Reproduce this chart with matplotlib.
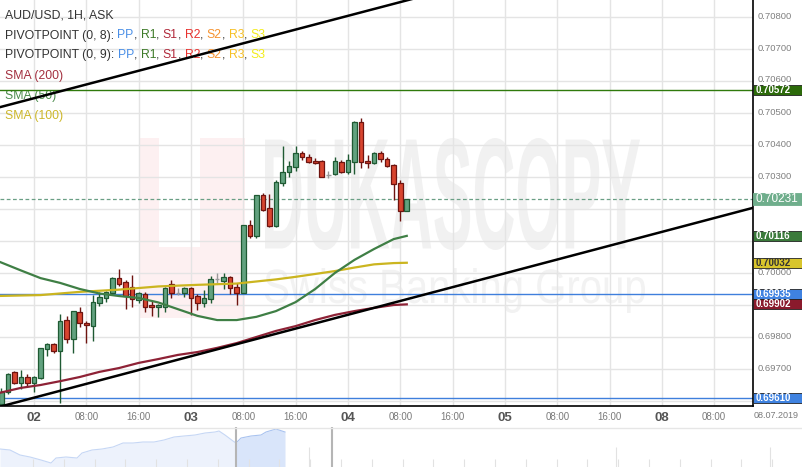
import numpy as np
import matplotlib
matplotlib.use("Agg")
import matplotlib.pyplot as plt
from matplotlib.patches import Rectangle, PathPatch
from matplotlib.textpath import TextPath
from matplotlib.font_manager import FontProperties
from matplotlib.transforms import Affine2D, IdentityTransform, blended_transform_factory

plt.rcParams['font.family'] = ['Liberation Sans', 'DejaVu Sans']

# hourly candles, hour 0 = 02.07 00:00 (weekend hours skipped)
hours = np.arange(-5, 58)
opens = [0.69591, 0.69628, 0.69691, 0.69656, 0.69675, 0.69656, 0.69672, 0.69763, 0.69778, 0.69756,
         0.69853, 0.69794, 0.69878, 0.69844, 0.69834, 0.69906, 0.69922, 0.69938, 0.69984, 0.69972,
         0.69956, 0.69916, 0.69934, 0.69900, 0.69894, 0.69894, 0.69966, 0.69938, 0.69938, 0.69953,
         0.69928, 0.69906, 0.69919, 0.69981, 0.69975, 0.69988, 0.69956, 0.69938, 0.70150, 0.70116,
         0.70244, 0.70203, 0.70147, 0.70281, 0.70316, 0.70331, 0.70375, 0.70362, 0.70350, 0.70350,
         0.70306, 0.70309, 0.70347, 0.70316, 0.70347, 0.70472, 0.70350, 0.70344, 0.70375, 0.70356,
         0.70338, 0.70281, 0.70194]
highs = [0.69641, 0.69688, 0.69694, 0.69697, 0.69684, 0.69678, 0.69766, 0.69781, 0.69781, 0.69872,
         0.69866, 0.69881, 0.69894, 0.69850, 0.69931, 0.69941, 0.69944, 0.69988, 0.70013, 0.69978,
         0.69994, 0.69941, 0.69941, 0.69913, 0.69903, 0.69956, 0.69978, 0.69953, 0.69956, 0.69956,
         0.69934, 0.69947, 0.69991, 0.70000, 0.70000, 0.69991, 0.69969, 0.70150, 0.70166, 0.70244,
         0.70250, 0.70247, 0.70291, 0.70397, 0.70350, 0.70397, 0.70381, 0.70372, 0.70359, 0.70353,
         0.70319, 0.70362, 0.70353, 0.70372, 0.70475, 0.70484, 0.70369, 0.70378, 0.70381, 0.70362,
         0.70341, 0.70291, 0.70231]
lows = [0.69572, 0.69622, 0.69653, 0.69638, 0.69644, 0.69628, 0.69669, 0.69741, 0.69750, 0.69594,
        0.69781, 0.69750, 0.69831, 0.69781, 0.69788, 0.69897, 0.69909, 0.69934, 0.69959, 0.69888,
        0.69894, 0.69906, 0.69878, 0.69866, 0.69863, 0.69878, 0.69922, 0.69931, 0.69925, 0.69869,
        0.69884, 0.69894, 0.69906, 0.69969, 0.69950, 0.69934, 0.69900, 0.69938, 0.70109, 0.70109,
        0.70194, 0.70144, 0.70144, 0.70272, 0.70300, 0.70319, 0.70353, 0.70344, 0.70341, 0.70300,
        0.70297, 0.70306, 0.70312, 0.70309, 0.70309, 0.70328, 0.70328, 0.70341, 0.70347, 0.70331,
        0.70228, 0.70163, 0.70194]
closes = [0.69628, 0.69684, 0.69656, 0.69675, 0.69656, 0.69675, 0.69766, 0.69778, 0.69756, 0.69850,
          0.69794, 0.69881, 0.69844, 0.69838, 0.69909, 0.69925, 0.69941, 0.69984, 0.69966, 0.69928,
          0.69919, 0.69938, 0.69894, 0.69894, 0.69900, 0.69953, 0.69938, 0.69938, 0.69953, 0.69922,
          0.69906, 0.69922, 0.69981, 0.69981, 0.69988, 0.69953, 0.69938, 0.70150, 0.70116, 0.70244,
          0.70197, 0.70147, 0.70284, 0.70316, 0.70334, 0.70375, 0.70362, 0.70347, 0.70344, 0.70300,
          0.70306, 0.70350, 0.70316, 0.70353, 0.70472, 0.70347, 0.70344, 0.70375, 0.70356, 0.70334,
          0.70278, 0.70194, 0.70231]

# moving averages, sampled
sma50_h = [-6, -2, 1, 4, 7, 10, 13, 16, 19, 22, 25, 28, 31, 34, 37, 40, 43, 46, 49, 52, 55, 57]
sma50 = [0.70041, 0.70008, 0.69984, 0.69969, 0.69950, 0.69936, 0.69928, 0.69922, 0.69908, 0.69887,
         0.69866, 0.69853, 0.69853, 0.69863, 0.69881, 0.69909, 0.69950, 0.70000, 0.70041, 0.70075,
         0.70106, 0.70116]
sma100_h = [-6, 1, 7, 13, 19, 25, 31, 37, 40, 43, 46, 49, 52, 55, 57]
sma100 = [0.69928, 0.69931, 0.69941, 0.69948, 0.69958, 0.69963, 0.69967, 0.69980, 0.69988, 0.69997,
          0.70006, 0.70017, 0.70027, 0.70031, 0.70032]
sma200_h = [-6, -2, 1, 4, 7, 10, 13, 16, 19, 22, 25, 28, 31, 34, 37, 40, 43, 46, 49, 52, 55, 57]
sma200 = [0.69622, 0.69641, 0.69650, 0.69662, 0.69675, 0.69691, 0.69703, 0.69719, 0.69731, 0.69744,
          0.69753, 0.69766, 0.69781, 0.69800, 0.69819, 0.69834, 0.69853, 0.69869, 0.69881, 0.69891,
          0.69900, 0.69902]

# trend lines (hour, price)
upper_h = [-6, 60]
upper_p = [0.70514, 0.70868]
lower_h = [-6, 110]
lower_p = [0.69578, 0.70204]

level_vals = [0.70572, 0.70231, 0.70116, 0.70032, 0.69935, 0.69902, 0.69610]
level_face = ['#2c6a0a', '#6fae8c', '#3b7a3b', '#d8c52c', '#3f82e0', '#8a1a2c', '#3f82e0']
level_txt = ['white', 'white', 'white', '#333333', 'white', 'white', 'white']

price_ticks = [0.697, 0.698, 0.700, 0.703, 0.704, 0.705, 0.706, 0.707, 0.708]

tick_h = [0, 8, 16, 24, 32, 40, 48, 56, 64, 72, 80, 88, 96, 104]
tick_lbl = ['02', '08:00', '16:00', '03', '08:00', '16:00', '04', '08:00', '16:00',
            '05', '08:00', '16:00', '08', '08:00']

# navigator overview series
nav_x = [0, 10, 20, 30, 41, 51, 56, 66, 77, 82, 92, 102, 113, 123, 133, 143, 154, 164, 174,
         184, 195, 205, 215, 219, 225, 233, 236, 241, 251, 261, 266, 276, 282, 285]
nav_v = [18, 17, 12, 10, 7, 4, 9, 10, 9, 14, 17, 18, 20, 24, 24, 25, 25, 27, 30,
         31, 32, 34, 35, 36, 32, 26, 24, 29, 31, 32, 35, 38, 36, 35]

W, H = 803, 467
fig = plt.figure(figsize=(W / 100, H / 100), dpi=100)
ax = fig.add_axes([0, 61 / H, 753 / W, 406 / H])
ax.set_xlim(-34 / 6.54, 719 / 6.54)
ax.set_ylim(0.69584375, 0.70853125)

# watermark
def fit_text(s, x0, x1, ytop, ybot, color, weight='bold'):
    tp = TextPath((0, 0), s, size=100, prop=FontProperties(family='Liberation Sans', weight=weight))
    ext = tp.get_extents()
    sx = (x1 - x0) / ext.width
    sy = (ybot - ytop) / ext.height
    tr = Affine2D().translate(-ext.x0, -ext.y0).scale(sx, sy).translate(x0, H - ybot)
    ax.add_patch(PathPatch(tr.transform_path(tp), fc=color, ec='none', transform=IdentityTransform(), zorder=0.1))

def px_rect(x0, y0, x1, y1, color):
    ax.add_patch(Rectangle((x0, H - y1), x1 - x0, y1 - y0, fc=color, ec='none',
                           transform=IdentityTransform(), zorder=0.1))

px_rect(140, 138, 245, 318, '#fdf0f1')
px_rect(159, 138, 200, 247, 'white')
fit_text('DUKASCOPY', 265, 640, 138, 250, '#f1f1f1')
fit_text('Swiss Banking Group', 265, 645, 268, 313, '#f2f2f2', weight='normal')

ax.set_axisbelow(True)
ax.set_xticks(tick_h)
ax.set_xticklabels(tick_lbl)
ax.set_yticks(np.arange(0.696, 0.70851, 0.001))
ax.grid(True, color='#e4e4e4', lw=1)
ax.yaxis.tick_right()
ax.yaxis.set_major_formatter(matplotlib.ticker.NullFormatter())
ax.tick_params(axis='y', length=0)
ax.tick_params(axis='x', length=0, pad=4, labelcolor='#7a7a7a', labelsize=7)
for t in ax.get_xticklabels():
    if ':' not in t.get_text():
        t.set_fontsize(9.5)
        t.set_fontweight('bold')
        t.set_color('#555555')
for s in ['left', 'top']:
    ax.spines[s].set_visible(False)
for s in ['right', 'bottom']:
    ax.spines[s].set_color('black')
    ax.spines[s].set_linewidth(1.2)
    ax.spines[s].set_zorder(8)

tb = blended_transform_factory(fig.transFigure, ax.transData)
for v in price_ticks:
    # the 0.706 label sits just above the 0.70572 box
    ax.text(758 / W, v + (0.00006 if v == 0.706 else 0), '%.5f' % v, transform=tb,
            fontsize=6.8, color='#808080', va='center', ha='left', clip_on=False)

# candles
o = np.array(opens); c = np.array(closes); hi = np.array(highs); lo = np.array(lows)
up = c > o; dn = c < o; dj = c == o
ax.vlines(hours[up], lo[up], hi[up], color='#1f5a33', lw=1, zorder=4)
ax.bar(hours[up], c[up] - o[up], bottom=o[up], width=0.7, color='#62a27f',
       edgecolor='#1f5a33', lw=0.9, zorder=5)
ax.vlines(hours[dn], lo[dn], hi[dn], color='#6e1410', lw=1, zorder=4)
ax.bar(hours[dn], o[dn] - c[dn], bottom=c[dn], width=0.7, color='#d8452f',
       edgecolor='#6e1410', lw=0.9, zorder=5)
ax.vlines(hours[dj], lo[dj], hi[dj], color='#999999', lw=1, zorder=4)
ax.hlines(c[dj], hours[dj] - 0.35, hours[dj] + 0.35, color='#999999', lw=1, zorder=4)

# level lines
ax.axhline(0.70572, color='#2f7a0c', lw=1, zorder=3)
ax.axhline(0.69935, color='#3f7fdc', lw=1, zorder=3)
ax.axhline(0.69610, color='#3f7fdc', lw=1, zorder=3)
ax.axhline(0.70231, color='#6a9f85', lw=0.9, ls=(0, (3, 2)), zorder=3)

# moving averages and trend lines
ax.plot(sma200_h, sma200, color='#8e2236', lw=1.6, zorder=6)
ax.plot(sma100_h, sma100, color='#cbb520', lw=1.6, zorder=6)
ax.plot(sma50_h, sma50, color='#3f7f45', lw=1.6, zorder=6)
ax.plot(upper_h, upper_p, color='black', lw=1.8, zorder=7)
ax.plot(lower_h, lower_p, color='black', lw=1.8, zorder=7)

# price boxes on the right axis
for v, fc, tc in zip(level_vals, level_face, level_txt):
    big = v == 0.70231
    hgt = (12.5 if big else 10) / 32000
    ax.add_patch(Rectangle((753 / W, v - hgt / 2), 49 / W, hgt, fc=fc, ec='#222222' if not big else fc,
                           lw=0.6, transform=tb, clip_on=False, zorder=9))
    ax.text(756 / W, v, '%.5f' % v, transform=tb, color=tc, fontsize=8.5 if big else 7,
            fontweight='normal' if big else 'bold', va='center', ha='left', zorder=10)

fig.text(776 / W, 1 - 416 / H, '08.07.2019', fontsize=6.5, color='#7a7a7a', ha='center', va='center')

# legend texts
def rainbow(parts, y):
    prev = None
    for s, col in parts:
        if prev is None:
            prev = ax.text(5 / 753, 1 - y / 406, s, transform=ax.transAxes, color=col,
                           fontsize=8.8, va='center', ha='left', zorder=2)
        else:
            prev = ax.annotate(s, xy=(1, 0.5), xycoords=prev, color=col, fontsize=8.8,
                               va='center', ha='left', zorder=2)

piv = [('PP', '#4a8fe7'), ('R1', '#3d7a28'), ('S1', '#b0283a'), ('R2', '#e8322e'),
       ('S2', '#f5922f'), ('R3', '#f6c026'), ('S3', '#f2ec1a')]
rainbow([('AUD/USD, 1H, ASK', '#333333')], 16)
for n, y in [(8, 35.5), (9, 55)]:
    parts = [('PIVOTPOINT (0, %d): ' % n, '#333333')]
    for i, (s, col) in enumerate(piv):
        parts.append((s, col))
        if i < len(piv) - 1:
            parts.append((', ', '#333333'))
    rainbow(parts, y)
rainbow([('SMA (200)', '#a3303f')], 75.5)
rainbow([('SMA (50)', '#4b8b4b')], 96.5)
rainbow([('SMA (100)', '#cdb72a')], 116)

# navigator
nav = fig.add_axes([0, 0, 1, 40 / H])
nav.set_xlim(0, W)
nav.set_ylim(0, 40)
nav.axis('off')
nx = np.array(nav_x); nv = np.array(nav_v)
m1 = nx <= 236
nav.fill_between(nx[m1], 0, nv[m1], color='#edf2fc', lw=0)
nav.plot(nx[m1], nv[m1], color='#c6d7f5', lw=0.8)
m2 = nx >= 236
nav.fill_between(nx[m2], 0, nv[m2], color='#d9e5fa', lw=0)
nav.plot(nx[m2], nv[m2], color='#a9c3f0', lw=0.8)
for xv in np.arange(33, 803, 30.8):
    nav.vlines(xv, 0, 8, color='#e2e2e2', lw=0.8)
for xv in [309, 616, 770]:
    nav.vlines(xv, 0, 20, color='#e2e2e2', lw=0.8)
nav.vlines([236.5, 332], 0, 40, color='#b5b5b5', lw=1.5)
nav.axhline(39.5, color='#e6e6e6', lw=1)

fig.savefig('out.png', dpi=100)
